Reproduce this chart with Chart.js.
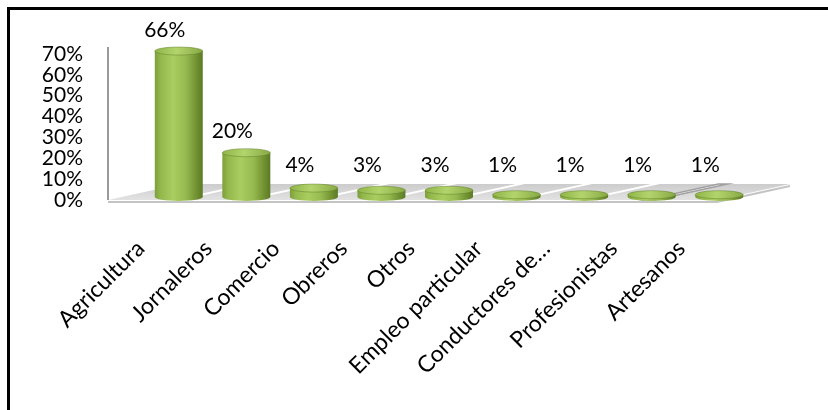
<!DOCTYPE html>
<html>
<head>
<meta charset="utf-8">
<script src="https://cdn.jsdelivr.net/npm/chart.js@4/dist/chart.umd.min.js"></script>
<style>
  body { margin: 0; background: #fff; overflow: hidden; }
  #wrap { position: relative; width: 828px; height: 410px; }
  /* the original picture is a crop of a framed chart: only the top and left edges show */
  #frame { position: absolute; left: 7px; top: 7px; width: 900px; height: 500px;
           border-top: 3px solid #000; border-left: 3px solid #000; }
  canvas { position: absolute; left: 0; top: 0; }
</style>
</head>
<body>
<div id="wrap">
  <div id="frame"></div>
  <canvas id="chart" width="828" height="410"></canvas>
</div>
<script>
// ---------------------------------------------------------------------------
// Data
// ---------------------------------------------------------------------------
const categories = ["Agricultura", "Jornaleros", "Comercio", "Obreros", "Otros",
                    "Empleo particular", "Conductores de…", "Profesionistas", "Artesanos"];
const shares = [66, 20, 4, 3, 3, 1, 1, 1, 1];          // percent
const yTickValues = [0, 10, 20, 30, 40, 50, 60, 70];    // axis labels

const FONT = "Lato, 'Open Sans', sans-serif";
const TEXT = "#000";

// Horizontal gradient so each bar reads as a cylinder
function cylinderFill(ctx, cx, half) {
  const g = ctx.createLinearGradient(cx - half, 0, cx + half, 0);
  g.addColorStop(0, "#7e9e3a");
  g.addColorStop(0.12, "#93b84c");
  g.addColorStop(0.38, "#aacd60");
  g.addColorStop(0.65, "#96ba4f");
  g.addColorStop(0.88, "#6f8f30");
  g.addColorStop(1, "#5b7a26");
  return g;
}

function barColor(c) {
  const chart = c.chart;
  if (!chart.chartArea || !chart.scales.x) return "#9bbb59";
  const xs = chart.scales.x;
  const cx = xs.getPixelForValue(c.dataIndex);
  const half = (xs.width / categories.length) * 0.71 / 2;
  return cylinderFill(chart.ctx, cx, half);
}

// ---------------------------------------------------------------------------
// Floor of the 3D plot, drawn under the bars
// ---------------------------------------------------------------------------
const floorPlugin = {
  id: "floor",
  beforeDatasetsDraw(chart) {
    const { ctx, chartArea: ca } = chart;
    const cw = chart.scales.x.width / categories.length;
    const frontY = ca.bottom, backY = ca.bottom - 16;
    const fl = ca.left - 37, fr = ca.right - 36, dx = 73;

    ctx.save();
    // floor surface
    ctx.beginPath();
    ctx.moveTo(fl, frontY);
    ctx.lineTo(fr, frontY);
    ctx.lineTo(fr + dx, backY);
    ctx.lineTo(fl + dx, backY);
    ctx.closePath();
    const g = ctx.createLinearGradient(0, backY, 0, frontY);
    g.addColorStop(0, "#cccccc");
    g.addColorStop(1, "#e2e2e2");
    ctx.fillStyle = g;
    ctx.fill();

    // white stripes between categories
    ctx.save();
    ctx.clip();
    ctx.fillStyle = "#ffffff";
    for (let k = 1; k < categories.length; k++) {
      const xb = ca.left + k * cw;
      ctx.beginPath();
      ctx.moveTo(xb - 40, frontY);
      ctx.lineTo(xb - 31, frontY);
      ctx.lineTo(xb + 42, backY);
      ctx.lineTo(xb + 33, backY);
      ctx.closePath();
      ctx.fill();
    }
    ctx.restore();

    ctx.strokeStyle = "#a0a0a0";
    ctx.lineWidth = 1.5;
    ctx.stroke();

    // front edge thickness
    ctx.strokeStyle = "#c4c4c4";
    ctx.lineWidth = 2;
    ctx.beginPath();
    ctx.moveTo(fl, frontY + 2);
    ctx.lineTo(fr, frontY + 2);
    ctx.lineTo(fr + dx, backY + 2);
    ctx.stroke();

    // back wall / axis line
    ctx.fillStyle = "#9a9a9a";
    ctx.fillRect(Math.round(fl) - 1, ca.top + 7, 2, frontY - ca.top - 7);
    ctx.restore();
  }
};

// ---------------------------------------------------------------------------
// Round ends of the cylinders and the value labels
// ---------------------------------------------------------------------------
const cylinderPlugin = {
  id: "cylinders",
  afterDatasetsDraw(chart) {
    const { ctx } = chart;
    const meta = chart.getDatasetMeta(0);
    ctx.save();
    meta.data.forEach((el, i) => {
      const { x, y, base, width } = el.getProps(["x", "y", "base", "width"], true);
      const rx = width / 2, ry = 4;

      // rounded bottom
      ctx.beginPath();
      ctx.ellipse(x, base, rx, ry, 0, 0, Math.PI);
      ctx.fillStyle = cylinderFill(ctx, x, rx);
      ctx.fill();

      // top cap
      ctx.beginPath();
      ctx.ellipse(x, y, rx, ry, 0, 0, Math.PI * 2);
      const g = ctx.createLinearGradient(x - rx, y - ry, x + rx, y + ry);
      g.addColorStop(0, "#8fb447");
      g.addColorStop(0.45, "#b3d46d");
      g.addColorStop(1, "#86a843");
      ctx.fillStyle = g;
      ctx.fill();
      ctx.strokeStyle = "rgba(95,125,40,0.6)";
      ctx.lineWidth = 0.8;
      ctx.stroke();

      // value label
      ctx.fillStyle = TEXT;
      ctx.font = "21px " + FONT;
      ctx.textAlign = "center";
      ctx.textBaseline = "middle";
      const ly = Math.min(y - 21, base - 32);
      ctx.fillText(shares[i] + "%", x - 14, ly);
    });
    ctx.restore();
  }
};

// ---------------------------------------------------------------------------
// Chart
// ---------------------------------------------------------------------------
new Chart(document.getElementById("chart"), {
  type: "bar",
  data: {
    labels: categories,
    datasets: [{
      data: shares,
      yAxisID: "y",
      backgroundColor: barColor,
      borderWidth: 0,
      categoryPercentage: 1,
      barPercentage: 0.71,
    }],
  },
  options: {
    responsive: false,
    animation: false,
    layout: { padding: { top: 40, right: 75, left: 0, bottom: 0 } },
    plugins: { legend: { display: false }, tooltip: { enabled: false } },
    scales: {
      x: {
        offset: true,
        grid: { display: false, drawTicks: false },
        border: { display: false },
        ticks: {
          autoSkip: false,
          minRotation: 45,
          maxRotation: 45,
          padding: 35,
          labelOffset: -38,
          color: TEXT,
          font: { family: FONT, size: 23 },
        },
        afterFit: (axis) => { axis.height = 210; },
      },
      // visible percentage labels (outermost on the left)
      yTicks: {
        position: "left",
        weight: 1,
        min: 0,
        max: 76.7,
        grid: { display: false, drawTicks: false },
        border: { display: false },
        afterBuildTicks: (axis) => { axis.ticks = yTickValues.map((v) => ({ value: v })); },
        ticks: {
          autoSkip: false,
          padding: 0,
          color: TEXT,
          font: { family: FONT, size: 21 },
          callback: (v) => v + "%",
        },
        afterFit: (axis) => { axis.width = 83; },
      },
      // bars sit a little inside the 3D floor, so they use their own (unlabelled) scale;
      // it also leaves the gap between the labels and the first bar
      y: {
        position: "left",
        weight: 0,
        min: -1.4,
        max: 71,
        grid: { display: false, drawTicks: false },
        border: { display: false },
        ticks: { display: false, padding: 0 },
        afterFit: (axis) => { axis.width = 62; },
      },
    },
  },
  plugins: [floorPlugin, cylinderPlugin],
});
</script>
</body>
</html>
